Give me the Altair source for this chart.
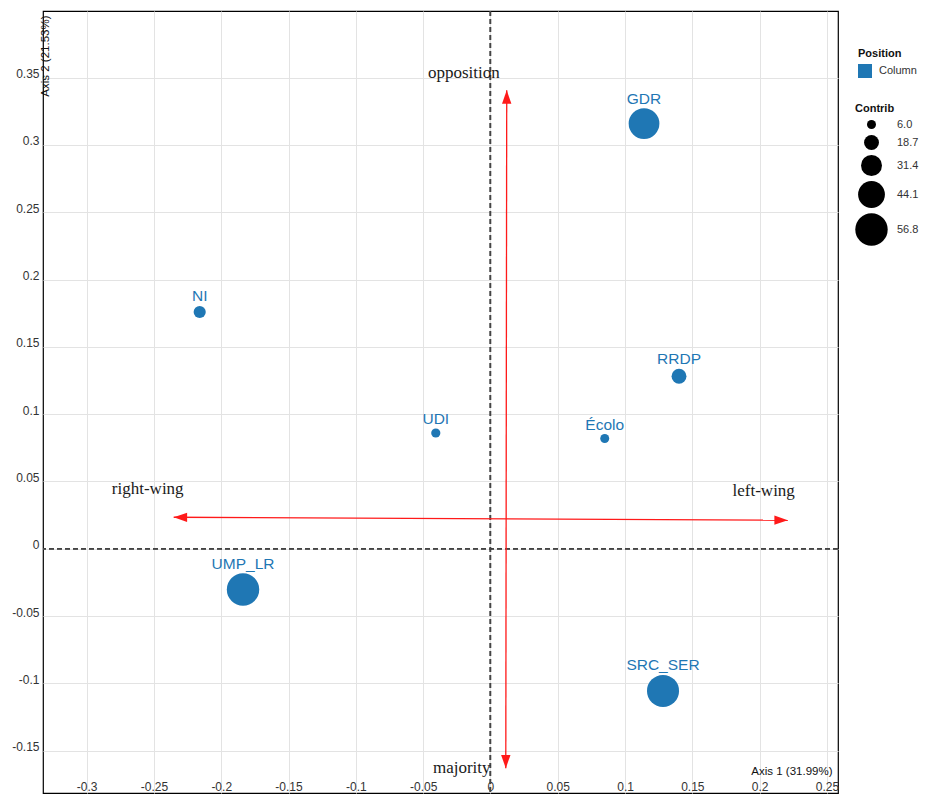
import math
import altair as alt
import pandas as pd

# ---- data ----
labels = ["GDR", "NI", "RRDP", "UDI", "Écolo", "UMP_LR", "SRC_SER"]
axis1 = [0.1141, -0.2160, 0.1401, -0.0406, 0.0849, -0.1838, 0.1282]
axis2 = [0.3159, 0.1759, 0.1282, 0.0860, 0.0819, -0.0303, -0.1056]
contrib = [53.0, 13.0, 18.7, 6.4, 6.0, 56.8, 56.0]
position = ["Column"] * 7

x_ticks = [-0.3, -0.25, -0.2, -0.15, -0.1, -0.05, 0, 0.05, 0.1, 0.15, 0.2, 0.25]
y_ticks = [-0.15, -0.1, -0.05, 0, 0.05, 0.1, 0.15, 0.2, 0.25, 0.3, 0.35]
contrib_legend_values = [6.0, 18.7, 31.4, 44.1, 56.8]

arrow_x1 = [-0.2353, 0.0121]
arrow_y1 = [0.0234, 0.3406]
arrow_x2 = [0.2209, 0.0114]
arrow_y2 = [0.0212, -0.1631]

annot_text = ["opposition", "majority", "right-wing", "left-wing"]
annot_x = [-0.0198, -0.0213, -0.2546, 0.2030]
annot_y = [0.3533, -0.1631, 0.0442, 0.0428]

W, H = 795, 782
x_domain = [-0.3324, 0.2582]
PX = W / (x_domain[1] - x_domain[0])          # pixels per unit (equal aspect)
y_domain = [0.3995 - H / PX, 0.3995]

# ---- tables ----
pts = pd.DataFrame({"label": labels, "x": axis1, "y": axis2,
                    "Contrib": contrib, "Position": position})
arrows = pd.DataFrame({"x": arrow_x1, "y": arrow_y1, "x2": arrow_x2, "y2": arrow_y2})

heads = []
for a, b, c, d in zip(arrow_x1, arrow_y1, arrow_x2, arrow_y2):
    for (xe, ye, xo, yo) in [(a, b, c, d), (c, d, a, b)]:
        ang = math.degrees(math.atan2(-(ye - yo), xe - xo)) % 360
        heads.append({"x": xe, "y": ye, "angle": ang})
heads = pd.DataFrame(heads)
annots = pd.DataFrame({"text": annot_text, "x": annot_x, "y": annot_y})

RED = "#ff1a1a"
BLUE = "#1f77b4"

xs = alt.Scale(domain=x_domain, nice=False, zero=False)
ys = alt.Scale(domain=y_domain, nice=False, zero=False)

lab_expr = "toString(round(datum.value*100)/100)"
x_axis = alt.Axis(values=x_ticks, labelExpr=lab_expr, title="Axis 1 (31.99%)",
                  titleX=789, titleY=-19, titleAlign="right", titleBaseline="alphabetic",
                  labelPadding=-12, labelBaseline="top")
y_axis = alt.Axis(values=y_ticks, labelExpr=lab_expr, title="Axis 2 (21.53%)",
                  titleAngle=270, titleX=2, titleY=4, titleAlign="right",
                  titleBaseline="middle", labelBaseline="alphabetic", labelPadding=4)

base_pts = alt.Chart(pts)

zero_h = alt.Chart(pts).mark_rule(color="#444", strokeDash=[5, 3], strokeWidth=1.2).encode(
    y=alt.datum(0, scale=ys))
zero_v = alt.Chart(pts).mark_rule(color="#444", strokeDash=[5, 3], strokeWidth=1.2).encode(
    x=alt.datum(0, scale=xs))

arrow_lines = alt.Chart(arrows).mark_rule(color=RED, strokeWidth=1.3).encode(
    x=alt.X("x:Q", scale=xs), y=alt.Y("y:Q", scale=ys), x2="x2:Q", y2="y2:Q")

arrow_heads = alt.Chart(heads).mark_point(
    shape="M0,0L-2,-0.7L-2,0.7Z", filled=True, color=RED, opacity=1, size=180, strokeWidth=0
).encode(x=alt.X("x:Q", scale=xs), y=alt.Y("y:Q", scale=ys),
         angle=alt.Angle("angle:Q", scale=None))

annot_layer = alt.Chart(annots).mark_text(
    font="Liberation Serif", fontSize=17, color="#1a1a1a", align="center", baseline="middle"
).encode(x=alt.X("x:Q", scale=xs), y=alt.Y("y:Q", scale=ys), text="text:N")

SMIN, SMAX = 81, 1050
size_scale = alt.Scale(type="pow", exponent=1.6, domain=[6.0, 56.8], range=[SMIN, SMAX], zero=False)

points = base_pts.mark_circle(opacity=1).encode(
    x=alt.X("x:Q", scale=xs, axis=x_axis),
    y=alt.Y("y:Q", scale=ys, axis=y_axis),
    color=alt.Color("Position:N", scale=alt.Scale(range=[BLUE]),
                    legend=alt.Legend(title="Position", orient="none", legendX=815, legendY=37,
                                      symbolType="square", symbolSize=196, symbolStrokeWidth=0,
                                      labelOffset=7)),
    size=alt.Size("Contrib:Q", scale=size_scale,
                  legend=alt.Legend(title="Contrib", orient="none", legendX=812, legendY=92,
                                    values=contrib_legend_values, format=".1f",
                                    symbolFillColor="black", symbolStrokeColor="black",
                                    symbolStrokeWidth=0, symbolOpacity=1, labelOffset=9,
                                    rowPadding=5)),
)

p0 = 6.0 ** 1.6
p1 = 56.8 ** 1.6
text_layer = base_pts.transform_calculate(
    ylab=f"datum.y + (sqrt({SMIN} + (pow(datum.Contrib,1.6) - {p0})/({p1}-{p0})*{SMAX - SMIN})/2 + 4.5)/{PX}"
).mark_text(fontSize=15.5, font="Liberation Sans", color=BLUE, baseline="alphabetic",
            align="center").encode(
    x=alt.X("x:Q", scale=xs), y=alt.Y("ylab:Q", scale=ys), text="label:N")

chart = alt.layer(zero_h, zero_v, arrow_lines, arrow_heads, annot_layer, points, text_layer).properties(
    width=W, height=H,
    autosize=alt.AutoSizeParams(type="none"),
    padding={"left": 35, "top": 3, "right": 84, "bottom": 2},
).configure_view(stroke="black", strokeWidth=1.2).configure_axis(
    grid=True, gridColor="#e3e3e3", gridWidth=1, domain=False, ticks=False,
    labelFont="Liberation Sans", labelFontSize=12, labelColor="#333",
    titleFont="Liberation Sans", titleFontSize=11.5, titleFontWeight="normal", titleColor="#111",
).configure_legend(
    titleFont="Liberation Sans", titleFontSize=11, titleFontWeight="bold", titleColor="#111",
    labelFont="Liberation Sans", labelFontSize=11, labelColor="#333",
)

chart.save("out.html", embed_options={"renderer": "svg", "actions": False})
